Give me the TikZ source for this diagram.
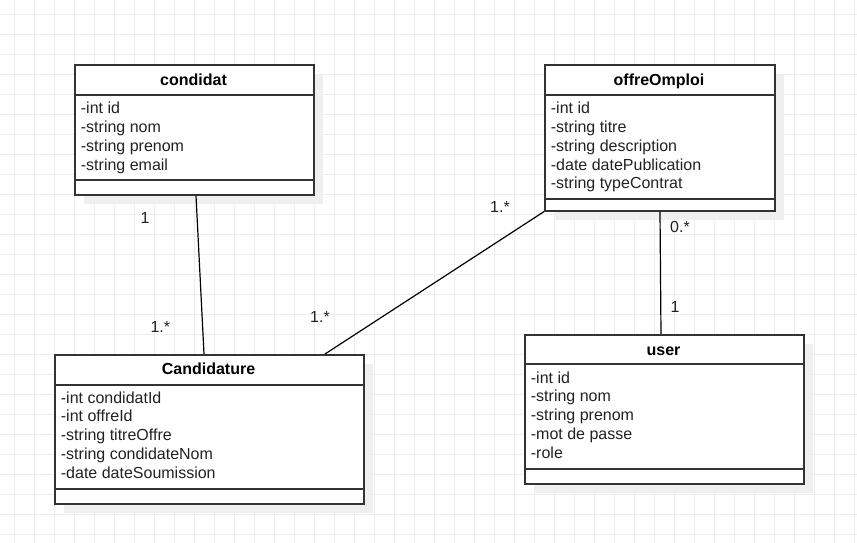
\documentclass[tikz,border=0pt]{standalone}
\usepackage{fontspec}
\setmainfont{Liberation Sans}
\usetikzlibrary{shadows,calc}
\definecolor{gridc}{HTML}{EDEDED}
\definecolor{shadowc}{HTML}{EFEFEF}
\definecolor{linec}{HTML}{333333}
\definecolor{textc}{HTML}{222222}
\begin{document}
\begin{tikzpicture}[x=1pt,y=-1pt,
  classbox/.style={draw=linec, line width=1.6pt, fill=white, anchor=north west, inner sep=0pt,
    general shadow={fill=shadowc, shadow xshift=9pt, shadow yshift=-9pt}},
  sepline/.style={draw=linec, line width=1.6pt},
  ctitle/.style={font=\fontsize{16}{19}\selectfont\bfseries, text=black, inner sep=0pt, anchor=base},
  attr/.style={font=\fontsize{16}{19}\selectfont, text=textc, anchor=base west, inner sep=0pt},
  assoc/.style={draw=black, line width=1.2pt},
  mult/.style={font=\fontsize{16}{19}\selectfont, text=textc, inner sep=0pt, anchor=base}]
\useasboundingbox (0,0) rectangle (857,542);
\fill[white] (0,0) rectangle (857,542);
% grid
\foreach \gx in {14,34,...,854} \draw[gridc, line width=1pt] (\gx,0) -- (\gx,542);
\foreach \gy in {14,34,...,534} \draw[gridc, line width=1pt] (0,\gy) -- (857,\gy);

% classes
\node[classbox, minimum width=239pt, minimum height=130pt] (condidat) at (74,64) {};
\node[classbox, minimum width=309pt, minimum height=149pt] (cand) at (54,354) {};
\node[classbox, minimum width=230pt, minimum height=146pt] (offre) at (544,64) {};
\node[classbox, minimum width=279pt, minimum height=149pt] (user) at (524,334) {};

% separators
\draw[sepline] ($(condidat.north west)+(0,31)$) -- ($(condidat.north east)+(0,31)$);
\draw[sepline] ($(condidat.north west)+(0,116)$) -- ($(condidat.north east)+(0,116)$);
\draw[sepline] ($(cand.north west)+(0,31)$) -- ($(cand.north east)+(0,31)$);
\draw[sepline] ($(cand.north west)+(0,135)$) -- ($(cand.north east)+(0,135)$);
\draw[sepline] ($(offre.north west)+(0,31)$) -- ($(offre.north east)+(0,31)$);
\draw[sepline] ($(offre.north west)+(0,135)$) -- ($(offre.north east)+(0,135)$);
\draw[sepline] ($(user.north west)+(0,30)$) -- ($(user.north east)+(0,30)$);
\draw[sepline] ($(user.north west)+(0,135)$) -- ($(user.north east)+(0,135)$);

% condidat
\node[ctitle] (t1) at (193.5,85.5) {condidat};
\node[attr] (c1) at (80.7,113.3) {-int id};
\node[attr] (c2) at (80.7,132.2) {-string nom};
\node[attr] (c3) at (80.7,151.1) {-string prenom};
\node[attr] (c4) at (80.7,170.0) {-string email};

% Candidature
\node[ctitle] (t2) at (208.5,374.8) {Candidature};
\node[attr] (d1) at (60.7,403.0) {-int condidatId};
\node[attr] (d2) at (60.7,421.9) {-int offreId};
\node[attr] (d3) at (60.7,440.8) {-string titreOffre};
\node[attr] (d4) at (60.7,459.7) {-string condidateNom};
\node[attr] (d5) at (60.7,478.6) {-date dateSoumission};

% offreOmploi
\node[ctitle] (t3) at (659,85.5) {offreOmploi};
\node[attr] (o1) at (550.7,113.3) {-int id};
\node[attr] (o2) at (550.7,132.2) {-string titre};
\node[attr] (o3) at (550.7,151.1) {-string description};
\node[attr] (o4) at (550.7,170.0) {-date datePublication};
\node[attr] (o5) at (550.7,188.9) {-string typeContrat};

% user
\node[ctitle] (t4) at (663.5,355.5) {user};
\node[attr] (u1) at (530.7,383.0) {-int id};
\node[attr] (u2) at (530.7,401.9) {-string nom};
\node[attr] (u3) at (530.7,420.8) {-string prenom};
\node[attr] (u4) at (530.7,439.7) {-mot de passe};
\node[attr] (u5) at (530.7,458.6) {-role};

% associations
\draw[assoc] ($(condidat.south west)+(122,0)$) -- ($(cand.north west)+(150,0)$);
\draw[assoc] (offre.south west) -- ($(cand.north west)+(271,0)$);
\draw[assoc] ($(offre.south west)+(116,0)$) -- ($(user.north west)+(137,0)$);

% multiplicities
\node[mult] (m1) at (145,223.3) {1};
\node[mult] (m2) at (160.3,332.3) {1.*};
\node[mult] (m3) at (320,322.7) {1.*};
\node[mult] (m4) at (500,212.7) {1.*};
\node[mult] (m5) at (680,232.7) {0.*};
\node[mult] (m6) at (675,312.7) {1};
\end{tikzpicture}
\end{document}
